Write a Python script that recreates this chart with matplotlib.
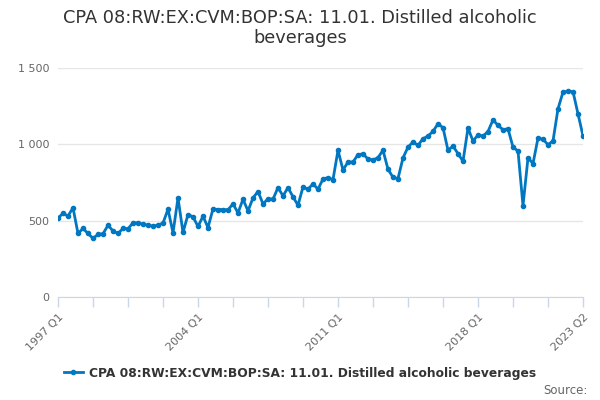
import numpy as np
import matplotlib
matplotlib.use("Agg")
from matplotlib import pyplot as plt

TITLE = "CPA 08:RW:EX:CVM:BOP:SA: 11.01. Distilled alcoholic\nbeverages"
SERIES = "CPA 08:RW:EX:CVM:BOP:SA: 11.01. Distilled alcoholic beverages"

# quarterly, 1997 Q1 .. 2023 Q2
quarters = [f"{y} Q{q}" for y in range(1997, 2024) for q in range(1, 5)][:106]

values = [
    518, 547, 531, 584, 416, 449, 416, 384, 410, 414,
    470, 433, 416, 449, 447, 486, 486, 477, 471, 464,
    471, 484, 575, 420, 649, 423, 540, 525, 462, 529,
    455, 577, 573, 573, 571, 610, 551, 640, 564, 649,
    691, 610, 643, 641, 717, 662, 717, 656, 601, 721,
    706, 741, 706, 773, 782, 769, 961, 832, 884, 884,
    933, 937, 904, 897, 913, 961, 837, 784, 776, 911,
    982, 1015, 993, 1037, 1054, 1085, 1135, 1109, 961, 989,
    939, 889, 1107, 1022, 1061, 1054, 1084, 1160, 1124, 1096,
    1102, 982, 956, 599, 911, 874, 1041, 1033, 998, 1022,
    1233, 1342, 1348, 1345, 1200, 1055,
]

labelled = ["1997 Q1", "2004 Q1", "2011 Q1", "2018 Q1", "2023 Q2"]
y_ticks = [0, 500, 1000, 1500]
y_labels = ["0", "500", "1 000", "1 500"]

BLUE = "#0077c0"
AXIS = "#ccd6eb"

fig = plt.figure(figsize=(6, 4), dpi=100)
ax = fig.add_axes([58 / 600, 1 - 297 / 400, 525 / 600, 229 / 400])

x = np.arange(len(values))
line, = ax.plot(x, values, color=BLUE, lw=2, marker="o", ms=3, zorder=3)

ax.set_xlim(0, len(values) - 1)
ax.set_ylim(0, 1500)

tick_pos = list(range(0, len(values), 7))
ax.set_xticks(tick_pos)
ax.set_xticklabels([quarters[i] if quarters[i] in labelled else "" for i in tick_pos],
                   rotation=45, ha="right", rotation_mode="anchor")
ax.tick_params(axis="x", length=7, width=1, color=AXIS, labelcolor="#666666",
               labelsize=8, pad=4)

ax.set_yticks(y_ticks)
ax.set_yticklabels(y_labels)
ax.tick_params(axis="y", length=0, labelcolor="#666666", labelsize=8, pad=6)

ax.grid(axis="y", color="#e6e6e6", lw=1)
ax.set_axisbelow(True)
for side in ["top", "right", "left"]:
    ax.spines[side].set_visible(False)
ax.spines["bottom"].set_color(AXIS)

fig.text(0.5, 1 - 28 / 400, TITLE, ha="center", va="center", fontsize=12.8,
         color="#333333", linespacing=1.15)

fig.legend([line], [SERIES], loc="center", bbox_to_anchor=(0.5, 1 - 373 / 400),
           frameon=False, handlelength=1.6, handletextpad=0.5,
           prop={"weight": "bold", "size": 8.8}, labelcolor="#333333")

fig.text(588 / 600, 1 - 390 / 400, "Source:", ha="right", va="center",
         fontsize=8.5, color="#666666")

fig.savefig("out.png", dpi=100)
